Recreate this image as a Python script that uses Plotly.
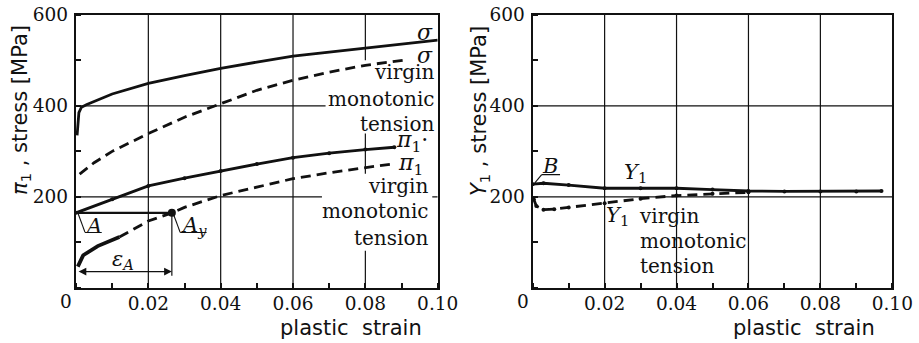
import plotly.graph_objects as go

# ---------------- data ----------------
strain_ticks = [0.02, 0.04, 0.06, 0.08, 0.10]
strain_ticktext = ["0.02", "0.04", "0.06", "0.08", "0.10"]
stress_ticks = [200, 400, 600]
stress_ticktext = ["200", "400", "600"]

# left panel
sigma_x = [0.0003, 0.0008, 0.0015, 0.003, 0.01, 0.02, 0.03, 0.04, 0.05, 0.06, 0.07, 0.08, 0.09, 0.10]
sigma_y = [335, 385, 397, 403, 426, 449, 466, 482, 496, 509, 518, 527, 536, 544]

sigma_v_x = [0.001, 0.005, 0.01, 0.02, 0.03, 0.04, 0.05, 0.06, 0.07, 0.08, 0.0915]
sigma_v_y = [250, 275, 300, 339, 375, 405, 434, 456, 474, 489, 501]

pi1_x = [0.0, 0.01, 0.02, 0.03, 0.04, 0.05, 0.06, 0.07, 0.08, 0.088]
pi1_y = [165, 195, 224, 241, 257, 272, 286, 296, 304, 309]

pi1_v_solid_x = [0.0005, 0.002, 0.006, 0.012]
pi1_v_solid_y = [47, 72, 92, 112]
pi1_v_x = [0.012, 0.02, 0.0265, 0.03, 0.04, 0.05, 0.06, 0.07, 0.08, 0.088]
pi1_v_y = [112, 147, 165, 177, 203, 222, 240, 253, 264, 273]

point_A = (0.0, 165)
point_Av = (0.0265, 165)
eps_arrow_y = 36
eps_line_bottom = 27

# right panel
y1_x = [0.0, 0.003, 0.01, 0.02, 0.03, 0.04, 0.05, 0.06, 0.07, 0.08, 0.09, 0.097]
y1_y = [228, 230, 226, 219, 219, 219, 216, 213, 212, 212, 212, 213]

y1_v_x = [0.0003, 0.001, 0.003, 0.006, 0.01, 0.02, 0.03, 0.04, 0.05, 0.06]
y1_v_y = [195, 180, 172, 173, 177, 186, 196, 203, 207, 210]

# ---------------- figure ----------------
BLACK = "#111111"
SERIF = "DejaVu Serif"
fig = go.Figure()

def line(x, y, xa, ya, dash="solid", width=2.8, markers=True):
    fig.add_trace(go.Scatter(
        x=x, y=y, xaxis=xa, yaxis=ya,
        mode="lines+markers" if markers else "lines",
        line=dict(color=BLACK, width=width, dash=dash),
        marker=dict(color=BLACK, size=4),
        showlegend=False, hoverinfo="skip"))

DASH = "10px,6px"
line(sigma_x, sigma_y, "x", "y", markers=False)
line(sigma_v_x, sigma_v_y, "x", "y", dash=DASH, markers=False)
line(pi1_x, pi1_y, "x", "y")
line(pi1_v_solid_x, pi1_v_solid_y, "x", "y", width=3.8, markers=False)
line(pi1_v_x, pi1_v_y, "x", "y", dash=DASH, markers=False)
# A -> Av horizontal, Av vertical drop
line([point_A[0], point_Av[0]], [point_A[1], point_Av[1]], "x", "y", width=2.2, markers=False)
line([point_Av[0], point_Av[0]], [point_Av[1], eps_line_bottom], "x", "y", width=1.2, markers=False)
fig.add_trace(go.Scatter(x=[point_Av[0]], y=[point_Av[1]], xaxis="x", yaxis="y", mode="markers",
                         marker=dict(color=BLACK, size=8), showlegend=False, hoverinfo="skip"))

line(y1_x, y1_y, "x2", "y2")
line(y1_v_x, y1_v_y, "x2", "y2", dash=DASH)

shapes = []
def seg(xref, yref, x0, y0, x1, y1, w=1.2):
    shapes.append(dict(type="line", xref=xref, yref=yref, x0=x0, y0=y0, x1=x1, y1=y1,
                       line=dict(color=BLACK, width=w), layer="below"))

# left panel grid (partial as in the figure)
for gx in [0.02, 0.04, 0.06]:
    seg("x", "y", gx, 0, gx, 600)
for (a, b) in [(0, 82), (251, 339), (500, 600)]:
    seg("x", "y", 0.08, a, 0.08, b)
seg("x", "y", 0, 400, 0.069, 400)
seg("x", "y", 0, 200, 0.068, 200)
seg("x", "y", 0.0985, 200, 0.1, 200)
# right panel grid
for gx in [0.02, 0.04, 0.06, 0.08]:
    seg("x2", "y2", gx, 0, gx, 600)
for gy in [200, 400]:
    seg("x2", "y2", 0, gy, 0.1, gy)
# leaders for A, Av, B
for xs, ys, xr, yr in [
    ([0.0006, 0.0025, 0.0071], [163, 122, 122], "x", "y"),
    ([0.0269, 0.0288, 0.0361], [163, 122, 122], "x", "y"),
    ([0.0006, 0.0025, 0.0076], [231, 249, 249], "x2", "y2"),
]:
    for i in range(len(xs) - 1):
        seg(xr, yr, xs[i], ys[i], xs[i + 1], ys[i + 1], w=1.1)

ann = []
def txt(s, x, y, xref="x", yref="y", size=20, xanchor="center", family=SERIF, **kw):
    ann.append(dict(text=s, x=x, y=y, xref=xref, yref=yref, showarrow=False,
                    xanchor=xanchor, yanchor="middle",
                    font=dict(family=family, size=size, color=BLACK), **kw))

# left labels
txt("<i>σ</i>", 0.0965, 562, size=22)
txt("<i>σ</i>", 0.0965, 511, size=22)
txt("virgin", 0.0995, 475, xanchor="right")
txt("monotonic", 0.0995, 414, xanchor="right")
txt("tension", 0.0995, 360, xanchor="right")
txt("<i>π</i><sub>1</sub>·", 0.098, 322, xanchor="right", size=22)
txt("<i>π</i><sub>1</sub>", 0.0965, 272, xanchor="right", size=22)
txt("virgin", 0.098, 225, xanchor="right")
txt("monotonic", 0.098, 169, xanchor="right")
txt("tension", 0.098, 110, xanchor="right")
txt("<i>A</i>", 0.0047, 137, size=21)
txt("<i>A</i><sub><i>y</i></sub>", 0.0325, 137, size=21)
txt("<i>ε</i><sub><i>A</i></sub>", 0.013, 62, size=21)
# right labels
txt("<i>B</i>", 0.0048, 267, "x2", "y2", size=21)
txt("<i>Y</i><sub>1</sub>", 0.0287, 252, "x2", "y2", size=21)
txt("<i>Y</i><sub>1</sub>", 0.0236, 157, "x2", "y2", size=21)
txt("virgin", 0.0289, 158, "x2", "y2", xanchor="left")
txt("monotonic", 0.0293, 103, "x2", "y2", xanchor="left")
txt("tension", 0.0293, 48, "x2", "y2", xanchor="left")

# epsilon_A double arrow
ann.append(dict(x=point_Av[0], y=eps_arrow_y, ax=0.0003, ay=eps_arrow_y, xref="x", yref="y",
                axref="x", ayref="y", text="", showarrow=True, arrowhead=2, arrowside="end+start",
                arrowsize=1.1, arrowwidth=1.4, arrowcolor=BLACK))

TICKSIZE = 18.5
# corner zeros
for xr, yr in [("x", "y"), ("x2", "y2")]:
    ann.append(dict(text="0", x=0, y=0, xref=xr, yref=yr, showarrow=False, xanchor="center",
                    yanchor="middle", xshift=-10, yshift=-13,
                    font=dict(family=SERIF, size=TICKSIZE, color=BLACK)))

# axis titles
TITLE = dict(family="DejaVu Sans", size=21, color=BLACK)
def paper_txt(s, px, py, angle=0):
    ann.append(dict(text=s, x=px / 919, y=1 - py / 343, xref="paper", yref="paper",
                    xanchor="center", yanchor="middle", showarrow=False,
                    textangle=angle, font=TITLE))

paper_txt("<i>π</i><sub>1</sub> , stress [MPa]", 21, 110, -90)
paper_txt("<i>Y</i><sub>1</sub> , stress [MPa]", 480, 111, -90)
paper_txt("plastic  strain", 351, 328)
paper_txt("plastic  strain", 804, 328)

xcommon = dict(range=[0, 0.1], tickvals=strain_ticks, ticktext=strain_ticktext, ticks="",
               showgrid=False, zeroline=False, showline=True, linecolor=BLACK, linewidth=2.4,
               mirror=True, automargin=False, tickfont=dict(family=SERIF, size=TICKSIZE, color=BLACK),
               ticklabelstandoff=-2,
               minor=dict(dtick=0.01, tick0=0, ticks="inside", ticklen=5, tickwidth=1.5,
                          tickcolor=BLACK, showgrid=False))
ycommon = dict(range=[0, 600], tickvals=stress_ticks, ticktext=stress_ticktext, ticks="",
               showgrid=False, zeroline=False, showline=True, linecolor=BLACK, linewidth=2.4,
               mirror=True, automargin=False, tickfont=dict(family=SERIF, size=TICKSIZE, color=BLACK),
               ticklabelstandoff=2,
               minor=dict(dtick=100, tick0=0, ticks="inside", ticklen=5, tickwidth=1.5,
                          tickcolor=BLACK, showgrid=False))

ybot, ytop = 1 - 288 / 343, 1 - 14.7 / 343
fig.update_layout(
    width=919, height=343, margin=dict(l=0, r=0, t=0, b=0),
    paper_bgcolor="white", plot_bgcolor="white",
    xaxis=dict(domain=[76 / 919, 437.7 / 919], anchor="y", **xcommon),
    yaxis=dict(domain=[ybot, ytop], anchor="x", **ycommon),
    xaxis2=dict(domain=[532.7 / 919, 892.3 / 919], anchor="y2", **xcommon),
    yaxis2=dict(domain=[ybot, ytop], anchor="x2", **ycommon),
    shapes=shapes, annotations=ann,
)

fig.write_html("out.html")
